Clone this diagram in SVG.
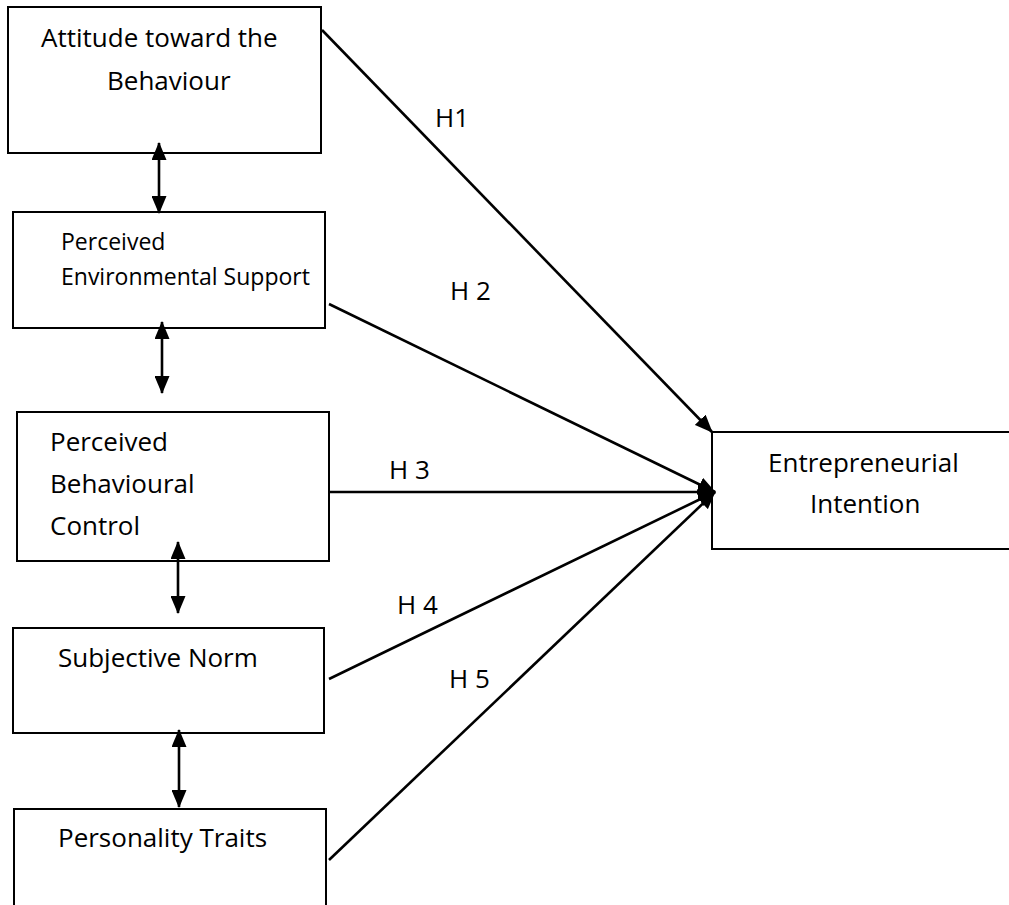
<svg xmlns="http://www.w3.org/2000/svg" width="1009" height="905" viewBox="0 0 1009 905">
<defs>
<style>
.box{fill:#fff;stroke:#000;stroke-width:2}
.t{font-family:"Open Sans","Noto Sans",sans-serif;font-size:26px;fill:#000}
.s{font-size:23px}
.c{fill:none;stroke:#000;stroke-width:2.6}
</style>
<marker id="ah" viewBox="0 0 18 15" refX="17" refY="7.5" markerWidth="18" markerHeight="15" markerUnits="userSpaceOnUse" orient="auto-start-reverse">
<path d="M0,0 L18,7.5 L0,15 Z" fill="#000"/>
</marker>
</defs>
<rect width="1009" height="905" fill="#fff"/>
<g id="n-attitude">
<rect class="box" x="8" y="7" width="313" height="146"/>
<text class="t" x="41" y="47">Attitude toward the</text>
<text class="t" x="107" y="90">Behaviour</text>
</g>
<g id="n-environment">
<rect class="box" x="13" y="212" width="312" height="116"/>
<text class="t s" x="61" y="250">Perceived</text>
<text class="t s" x="61" y="285">Environmental Support</text>
</g>
<g id="n-pbc">
<rect class="box" x="17" y="412" width="312" height="149"/>
<text class="t" x="50" y="451">Perceived</text>
<text class="t" x="50" y="493">Behavioural</text>
<text class="t" x="50" y="535">Control</text>
</g>
<g id="n-norm">
<rect class="box" x="13" y="628" width="311" height="105"/>
<text class="t" x="58" y="667">Subjective Norm</text>
</g>
<g id="n-personality">
<rect class="box" x="14" y="809" width="312" height="110"/>
<text class="t" x="58" y="847">Personality Traits</text>
</g>
<g id="n-intention">
<rect class="box" x="712" y="432" width="310" height="117"/>
<text class="t" x="768" y="472">Entrepreneurial</text>
<text class="t" x="810" y="513">Intention</text>
</g>
<g id="connectors">
<line class="c" x1="159" y1="143" x2="159" y2="213" marker-start="url(#ah)" marker-end="url(#ah)"/>
<line class="c" x1="162" y1="322" x2="162" y2="393" marker-start="url(#ah)" marker-end="url(#ah)"/>
<line class="c" x1="178" y1="542" x2="178" y2="613" marker-start="url(#ah)" marker-end="url(#ah)"/>
<line class="c" x1="179" y1="730" x2="179" y2="807" marker-start="url(#ah)" marker-end="url(#ah)"/>
<line class="c" x1="322" y1="30" x2="712" y2="432" marker-end="url(#ah)"/>
<line class="c" x1="329" y1="304" x2="715" y2="492" marker-end="url(#ah)"/>
<line class="c" x1="329" y1="492" x2="715" y2="492" marker-end="url(#ah)"/>
<line class="c" x1="329" y1="679" x2="715" y2="492" marker-end="url(#ah)"/>
<line class="c" x1="329" y1="860" x2="715" y2="492" marker-end="url(#ah)"/>
<text class="t" x="435" y="127">H1</text>
<text class="t" x="450" y="300">H 2</text>
<text class="t" x="389" y="479">H 3</text>
<text class="t" x="397" y="614">H 4</text>
<text class="t" x="449" y="688">H 5</text>
</g>
</svg>
